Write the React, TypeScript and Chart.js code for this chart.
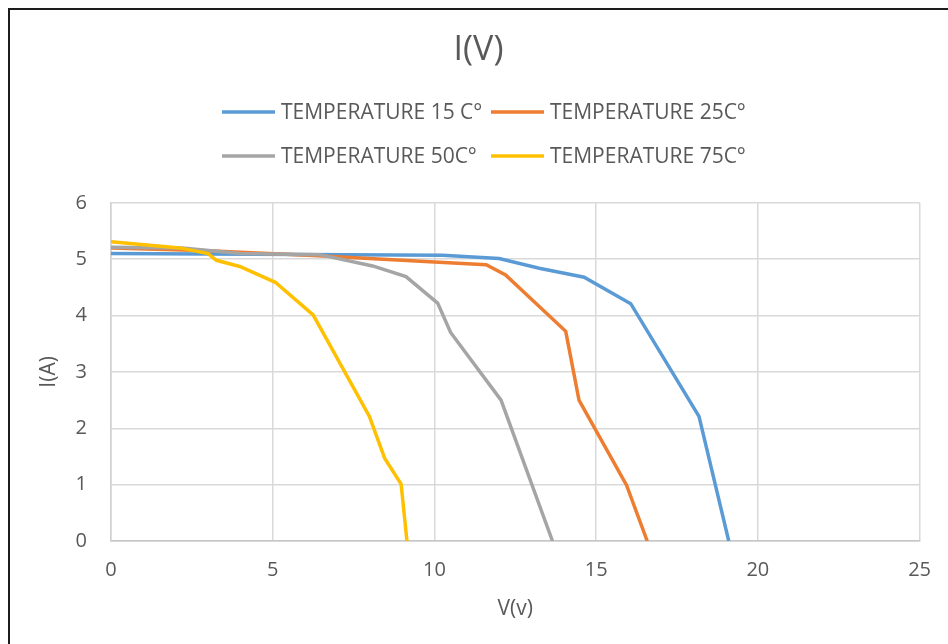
import React, { useEffect, useRef } from "react";
import { Chart, registerables } from "chart.js";

Chart.register(...registerables);

const seriesLabels = [
  "TEMPERATURE 15 C°",
  "TEMPERATURE 25C°",
  "TEMPERATURE 50C°",
  "TEMPERATURE 75C°",
];
const seriesColors = ["#5B9BD5", "#ED7D31", "#A5A5A5", "#FFC000"];

const v15 = [0, 10.25, 12.0, 13.24, 14.63, 16.07, 18.18, 19.1];
const i15 = [5.1, 5.07, 5.01, 4.84, 4.68, 4.21, 2.21, 0];

const v25 = [0, 3, 6.4, 10, 11.6, 12.2, 14.06, 14.47, 15.94, 16.58];
const i25 = [5.2, 5.15, 5.06, 4.95, 4.9, 4.72, 3.72, 2.5, 0.99, 0];

const v50 = [0, 2.2, 4, 6.45, 8.09, 9.12, 10.1, 10.5, 12.06, 13.65];
const i50 = [5.21, 5.2, 5.1, 5.08, 4.88, 4.69, 4.22, 3.7, 2.5, 0];

const v75 = [0, 2.13, 3.0, 3.26, 3.98, 5.08, 6.25, 7.99, 8.46, 8.97, 9.15];
const i75 = [5.31, 5.2, 5.1, 4.98, 4.87, 4.59, 4.01, 2.21, 1.47, 1.01, 0];

const xTicks = [0, 5, 10, 15, 20, 25];
const yTicks = [0, 1, 2, 3, 4, 5, 6];

const FONT = "'Open Sans', sans-serif";
const TEXT = "#595959";

const toPoints = (xs: number[], ys: number[]) => xs.map((x, k) => ({ x, y: ys[k] }));

const legendPlugin = {
  id: "gridLegend",
  afterDraw(chart: any) {
    const ctx = chart.ctx;
    const colX = [222, 491];
    const rowY = [112, 156];
    ctx.save();
    ctx.font = `21px ${FONT}`;
    ctx.textBaseline = "middle";
    ctx.textAlign = "left";
    chart.data.datasets.forEach((ds: any, idx: number) => {
      const x0 = colX[idx % 2];
      const y = rowY[Math.floor(idx / 2)];
      ctx.strokeStyle = ds.borderColor;
      ctx.lineWidth = 3.5;
      ctx.beginPath();
      ctx.moveTo(x0, y);
      ctx.lineTo(x0 + 53, y);
      ctx.stroke();
      ctx.fillStyle = TEXT;
      ctx.fillText(ds.label, x0 + 59, y + 1);
    });
    ctx.restore();
  },
};

export default function App() {
  const ref = useRef<HTMLCanvasElement | null>(null);

  useEffect(() => {
    if (!ref.current) return;
    const series = [
      toPoints(v15, i15),
      toPoints(v25, i25),
      toPoints(v50, i50),
      toPoints(v75, i75),
    ];
    const chart = new Chart(ref.current, {
      type: "scatter",
      data: {
        datasets: series.map((pts, k) => ({
          label: seriesLabels[k],
          data: pts,
          showLine: true,
          borderColor: seriesColors[k],
          backgroundColor: seriesColors[k],
          borderWidth: 3.5,
          pointRadius: 0,
          pointHoverRadius: 0,
          tension: 0,
          order: series.length - k,
        })),
      },
      options: {
        responsive: false,
        animation: false,
        layout: { padding: { left: 36, right: 27, top: 0, bottom: 0 } },
        plugins: {
          legend: { display: false },
          tooltip: { enabled: false },
          title: {
            display: true,
            text: "I(V)",
            color: TEXT,
            font: { family: FONT, size: 34, weight: "normal" },
            padding: { top: 30, bottom: 132 },
          },
        },
        scales: {
          x: {
            type: "linear",
            min: 0,
            max: 25,
            afterBuildTicks: (s: any) => {
              s.ticks = xTicks.map((value) => ({ value }));
            },
            afterFit: (s: any) => {
              s.height = 103;
            },
            grid: { color: "#d9d9d9", lineWidth: 1.5, drawTicks: false },
            border: { color: "#c6c6c6", width: 1.5 },
            ticks: {
              color: TEXT,
              font: { family: FONT, size: 20 },
              padding: 17,
            },
            title: {
              display: true,
              text: "V(v)",
              color: TEXT,
              font: { family: FONT, size: 21 },
              padding: { top: 0, bottom: 22 },
            },
          },
          y: {
            type: "linear",
            min: 0,
            max: 6,
            afterBuildTicks: (s: any) => {
              s.ticks = yTicks.map((value) => ({ value }));
            },
            afterFit: (s: any) => {
              s.width = 75;
            },
            grid: { color: "#d9d9d9", lineWidth: 1.5, drawTicks: false },
            border: { color: "#d0d0d0", width: 1.5 },
            ticks: {
              color: TEXT,
              font: { family: FONT, size: 20 },
              padding: 24,
            },
            title: {
              display: true,
              text: "I(A)",
              color: TEXT,
              font: { family: FONT, size: 21 },
              padding: { top: 0, bottom: 0 },
            },
          },
        },
      },
      plugins: [legendPlugin],
    });
    return () => chart.destroy();
  }, []);

  return (
    <div
      style={{
        position: "fixed",
        left: 0,
        top: 0,
        width: 948,
        height: 644,
        overflow: "hidden",
        background: "#ffffff",
      }}
    >
      <div
        style={{
          position: "absolute",
          left: 8,
          top: 8,
          width: 1200,
          height: 1000,
          border: "2px solid #1c1c1c",
          boxSizing: "border-box",
        }}
      />
      <canvas
        ref={ref}
        width={948}
        height={644}
        style={{ position: "absolute", left: 0, top: 0, width: 948, height: 644 }}
      />
    </div>
  );
}
